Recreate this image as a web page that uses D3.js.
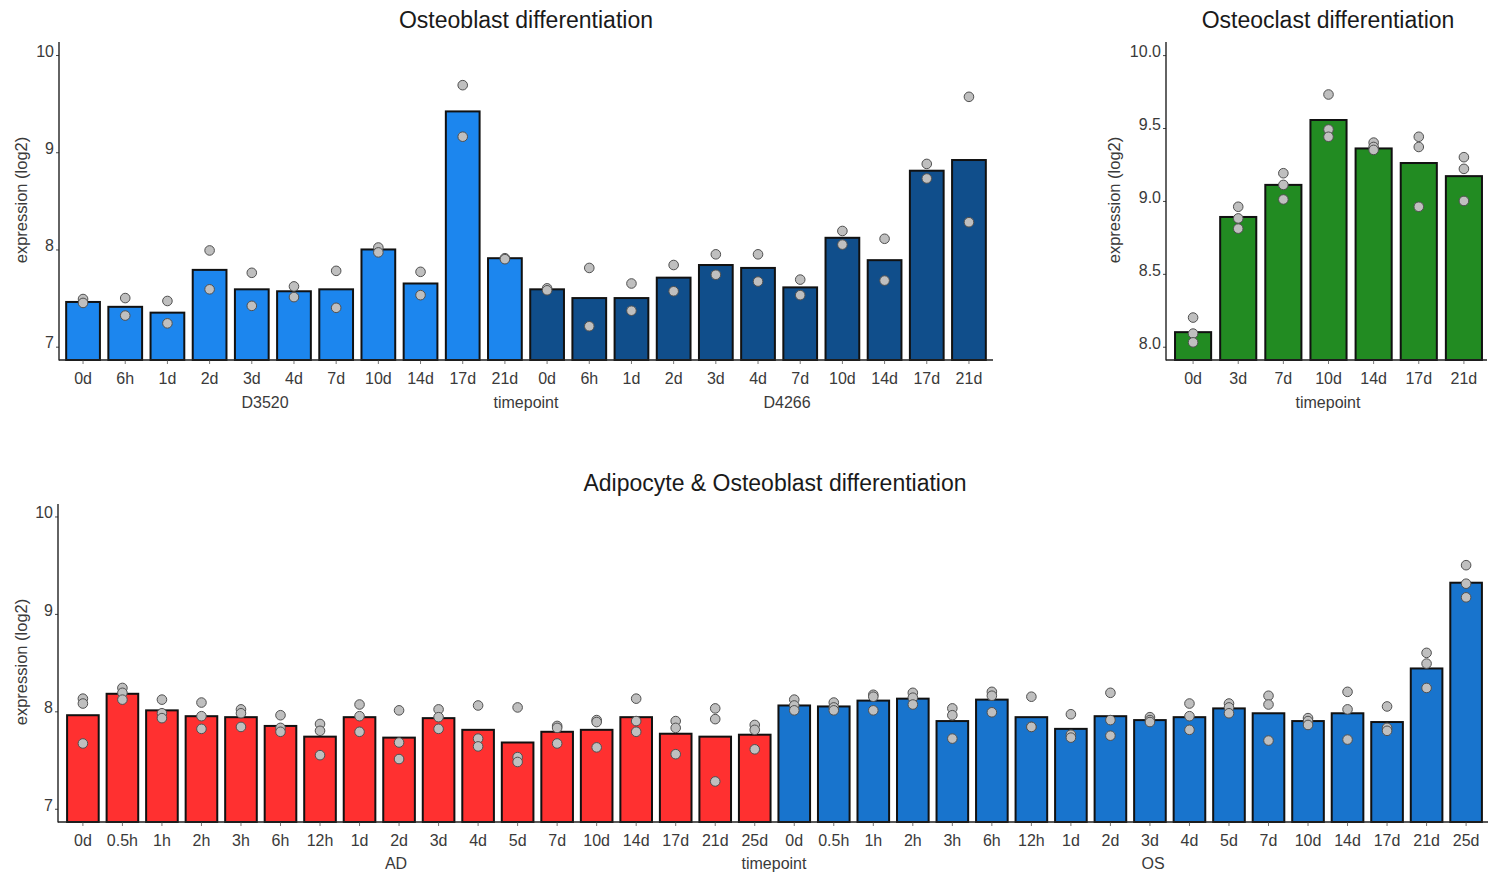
<!DOCTYPE html>
<html>
<head>
<meta charset="utf-8">
<script src="https://cdn.jsdelivr.net/npm/d3@7"></script>
<style>
  html, body { margin: 0; padding: 0; background: #fff; }
  svg { display: block; font-family: "Liberation Sans", Arial, sans-serif; }
</style>
</head>
<body>
<svg id="chart" width="1488" height="874"></svg>
<script>
// ---------- DATA ----------
const oblLabels = ["0d","6h","1d","2d","3d","4d","7d","10d","14d","17d","21d"];
const oblD3520Bar = [7.46,7.41,7.35,7.79,7.59,7.57,7.59,8.00,7.65,9.42,7.91];
const oblD3520Pts = [[7.49,7.45],[7.50,7.32],[7.47,7.24],[7.99,7.59],[7.76,7.42],[7.62,7.51],[7.78,7.40],[8.02,7.97],[7.77,7.53],[9.69,9.16],[7.91,7.90]];
const oblD4266Bar = [7.59,7.50,7.50,7.71,7.84,7.81,7.61,8.12,7.89,8.81,8.92];
const oblD4266Pts = [[7.60,7.58],[7.81,7.21],[7.65,7.37],[7.84,7.57],[7.95,7.74],[7.95,7.67],[7.69,7.53],[8.19,8.05],[8.11,7.68],[8.88,8.73],[9.57,8.28]];
const oblTicks = [7,8,9,10];

const oclLabels = ["0d","3d","7d","10d","14d","17d","21d"];
const oclBar = [8.10,8.89,9.11,9.555,9.36,9.26,9.17];
const oclPts = [[8.20,8.09,8.03],[8.96,8.88,8.81],[9.19,9.11,9.01],[9.73,9.49,9.44],[9.40,9.37,9.35],[9.44,9.37,8.96],[9.30,9.22,9.00]];
const oclTicks = [8.0,8.5,9.0,9.5,10.0];

const adoLabels = ["0d","0.5h","1h","2h","3h","6h","12h","1d","2d","3d","4d","5d","7d","10d","14d","17d","21d","25d"];
const adBar = [7.96,8.18,8.01,7.95,7.94,7.85,7.74,7.94,7.73,7.93,7.81,7.68,7.79,7.81,7.94,7.77,7.74,7.76];
const adPts = [[8.13,8.08,7.67],[8.24,8.19,8.12],[8.12,7.98,7.93],[8.09,7.95,7.82],[8.02,7.98,7.84],[7.96,7.83,7.79],[7.87,7.80,7.55],[8.07,7.95,7.79],[8.01,7.68,7.51],[8.02,7.94,7.82],[8.06,7.72,7.64],[8.04,7.53,7.48],[7.85,7.83,7.67],[7.91,7.89,7.63],[8.13,7.90,7.79],[7.90,7.83,7.56],[8.03,7.92,7.28],[7.86,7.81,7.61]];
const osBar = [8.06,8.05,8.11,8.13,7.90,8.12,7.94,7.82,7.95,7.91,7.94,8.03,7.98,7.90,7.98,7.89,8.44,9.32];
const osPts = [[8.12,8.06,8.01],[8.09,8.04,8.01],[8.17,8.15,8.01],[8.19,8.14,8.07],[8.03,7.96,7.72],[8.20,8.16,7.99],[8.15,7.84,7.84],[7.97,7.76,7.73],[8.19,7.91,7.75],[7.94,7.91,7.89],[8.08,7.95,7.81],[8.08,8.04,7.98],[8.16,8.07,7.70],[7.93,7.90,7.86],[8.20,8.02,7.71],[8.05,7.83,7.80],[8.60,8.49,8.24],[9.50,9.31,9.17]];
const adoTicks = [7,8,9,10];

// ---------- DRAW ----------
const svg = d3.select("#chart");
const TXT = "#3a3a3a";

function panel(cfg) {
  const g = svg.append("g");
  const rows = [];
  cfg.groups.forEach(gr => {
    gr.labels.forEach((lab, i) => {
      rows.push({ key: gr.name + "|" + lab, label: lab, value: gr.bars[i], pts: gr.pts[i], color: gr.color });
    });
  });
  const x = d3.scaleBand().domain(rows.map(r => r.key))
    .range(cfg.xRange).paddingInner(0.2).paddingOuter(cfg.outer);
  const y = d3.scaleLinear().domain(cfg.yDomain).range(cfg.yRange);
  const y0 = cfg.yRange[0];

  g.selectAll("rect.bar").data(rows).join("rect")
    .attr("x", d => x(d.key))
    .attr("width", x.bandwidth())
    .attr("y", d => y(d.value))
    .attr("height", d => y0 - y(d.value))
    .attr("fill", d => d.color)
    .attr("stroke", "#111")
    .attr("stroke-width", 2);

  const pts = [];
  rows.forEach(r => r.pts.forEach(v => pts.push({ key: r.key, v })));
  g.selectAll("circle.pt").data(pts).join("circle")
    .attr("cx", d => x(d.key) + x.bandwidth() / 2)
    .attr("cy", d => y(d.v))
    .attr("r", 4.8)
    .attr("fill", "#bfbfbf")
    .attr("stroke", "#505050")
    .attr("stroke-width", 1);

  const ya = g.append("g").attr("transform", `translate(${cfg.axisX},0)`)
    .call(d3.axisLeft(y).tickValues(cfg.ticks).tickFormat(cfg.fmt).tickSize(3).tickPadding(2));
  ya.select(".domain").remove();
  ya.selectAll(".tick line").attr("stroke", "#444");
  ya.selectAll(".tick text").attr("fill", TXT).attr("font-size", 16).attr("dy", "0.08em");
  g.append("line")
    .attr("x1", cfg.axisX).attr("x2", cfg.axisX)
    .attr("y1", cfg.yRange[1]).attr("y2", y0 + 0.5)
    .attr("stroke", "#222").attr("stroke-width", 1.4);

  const xa = g.append("g").attr("transform", `translate(0,${y0})`)
    .call(d3.axisBottom(x).tickFormat(k => k.split("|")[1]).tickSize(4));
  xa.select(".domain").remove();
  xa.selectAll(".tick line").attr("stroke", "#777");
  xa.selectAll(".tick text").attr("fill", TXT).attr("font-size", 16)
    .attr("y", 24).attr("dy", 0);
  g.append("line")
    .attr("x1", cfg.axisX).attr("x2", cfg.axisEnd)
    .attr("y1", y0).attr("y2", y0)
    .attr("stroke", "#222").attr("stroke-width", 1.4);

  g.append("text").attr("x", cfg.titleX).attr("y", cfg.titleY)
    .attr("text-anchor", "middle").attr("font-size", 23).attr("fill", "#1a1a1a")
    .text(cfg.title);
  g.append("text")
    .attr("transform", `translate(${cfg.ylabX},${cfg.ylabY}) rotate(-90)`)
    .attr("text-anchor", "middle").attr("font-size", 16.5).attr("fill", TXT)
    .text("expression (log2)");
  cfg.subLabels.forEach(s => {
    g.append("text").attr("x", s.x).attr("y", cfg.subY)
      .attr("text-anchor", "middle").attr("font-size", 16).attr("fill", TXT)
      .text(s.text);
  });
}

panel({
  groups: [
    { name: "D3520", labels: oblLabels, bars: oblD3520Bar, pts: oblD3520Pts, color: "#1C86EE" },
    { name: "D4266", labels: oblLabels, bars: oblD4266Bar, pts: oblD4266Pts, color: "#104E8B" }
  ],
  xRange: [59, 993], outer: 0.17, axisX: 59, axisEnd: 993,
  yDomain: [6.863, 10.134], yRange: [360, 42],
  ticks: oblTicks, fmt: d3.format("d"),
  title: "Osteoblast differentiation", titleX: 526, titleY: 28,
  ylabX: 27, ylabY: 200,
  subY: 408,
  subLabels: [{ x: 265, text: "D3520" }, { x: 526, text: "timepoint" }, { x: 787, text: "D4266" }]
});

panel({
  groups: [
    { name: "OC", labels: oclLabels, bars: oclBar, pts: oclPts, color: "#228B22" }
  ],
  xRange: [1166, 1491], outer: 0.2, axisX: 1166, axisEnd: 1487,
  yDomain: [7.909, 10.09], yRange: [360, 42],
  ticks: oclTicks, fmt: d3.format(".1f"),
  title: "Osteoclast differentiation", titleX: 1328, titleY: 28,
  ylabX: 1120, ylabY: 200,
  subY: 408,
  subLabels: [{ x: 1328, text: "timepoint" }]
});

panel({
  groups: [
    { name: "AD", labels: adoLabels, bars: adBar, pts: adPts, color: "#FF3030" },
    { name: "OS", labels: adoLabels, bars: osBar, pts: osPts, color: "#1874CD" }
  ],
  xRange: [58, 1491], outer: 0.23, axisX: 58, axisEnd: 1490,
  yDomain: [6.864, 10.128], yRange: [822, 504],
  ticks: adoTicks, fmt: d3.format("d"),
  title: "Adipocyte & Osteoblast differentiation", titleX: 775, titleY: 491,
  ylabX: 27, ylabY: 662,
  subY: 869,
  subLabels: [{ x: 396, text: "AD" }, { x: 774, text: "timepoint" }, { x: 1153, text: "OS" }]
});
</script>
</body>
</html>
